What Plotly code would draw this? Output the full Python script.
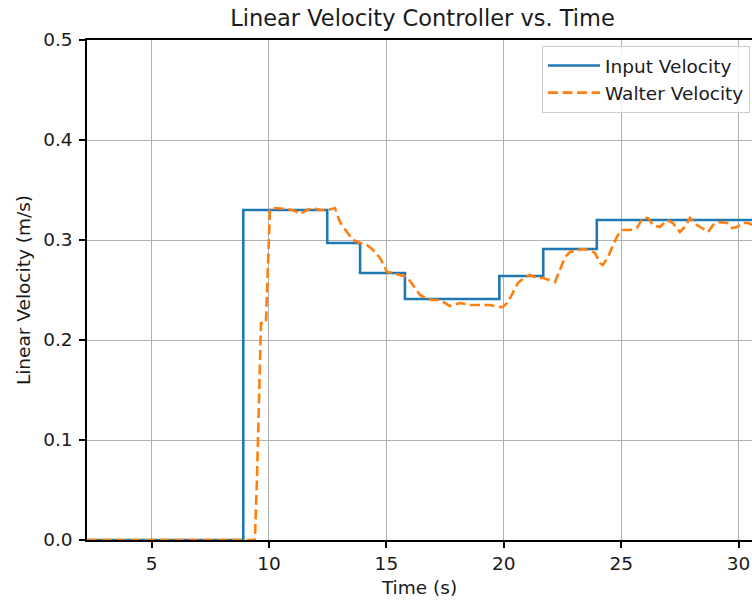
import plotly.graph_objects as go

# Commanded (input) velocity: piecewise-constant steps
input_time = [2.25, 8.905, 12.48, 13.88, 15.79, 19.81, 21.68, 23.96, 31.0]
input_velocity = [0.0, 0.330, 0.297, 0.267, 0.241, 0.264, 0.291, 0.320, 0.320]

# Measured robot (Walter) velocity
walter_time = [2.25, 9.40, 9.49, 9.66, 9.87, 10.04, 10.17, 10.77, 11.11, 11.32,
               11.62, 11.87, 12.17, 12.51, 12.81, 13.02, 13.32, 13.58, 13.88, 14.17,
               14.43, 14.73, 15.03, 15.28, 15.58, 15.88, 16.13, 16.43, 16.73, 16.98,
               17.28, 17.71, 18.13, 18.56, 18.99, 19.41, 19.75, 19.96, 20.18, 20.39,
               20.60, 20.90, 21.12, 21.41, 21.67, 21.97, 22.18, 22.39, 22.61, 22.82,
               23.12, 23.37, 23.67, 23.88, 24.10, 24.22, 24.44, 24.65, 24.86, 25.08,
               25.38, 25.67, 25.93, 26.14, 26.35, 26.65, 26.95, 27.20, 27.50, 27.71,
               27.93, 28.22, 28.44, 28.70, 28.91, 29.21, 29.51, 29.72, 29.93, 30.15,
               30.40, 30.60, 31.0]
walter_velocity = [0.0, 0.0, 0.063, 0.217, 0.217, 0.330, 0.332, 0.331, 0.329, 0.326,
                   0.330, 0.332, 0.330, 0.330, 0.332, 0.318, 0.308, 0.300, 0.297, 0.295,
                   0.290, 0.282, 0.268, 0.267, 0.265, 0.263, 0.255, 0.245, 0.241, 0.240,
                   0.240, 0.234, 0.237, 0.235, 0.235, 0.235, 0.233, 0.233, 0.238, 0.247,
                   0.257, 0.263, 0.265, 0.262, 0.262, 0.260, 0.258, 0.270, 0.283, 0.288,
                   0.290, 0.291, 0.290, 0.287, 0.277, 0.275, 0.283, 0.295, 0.305, 0.310,
                   0.310, 0.312, 0.322, 0.322, 0.315, 0.313, 0.320, 0.317, 0.308, 0.313,
                   0.322, 0.315, 0.312, 0.308, 0.315, 0.318, 0.317, 0.312, 0.313, 0.317,
                   0.317, 0.315, 0.315]

x_ticks = [5, 10, 15, 20, 25, 30]
y_ticks = [0.0, 0.1, 0.2, 0.3, 0.4, 0.5]
y_tick_text = ["0.0", "0.1", "0.2", "0.3", "0.4", "0.5"]

FONT = "DejaVu Sans"
TEXT = "#1a1a1a"

fig = go.Figure()
fig.add_trace(go.Scatter(
    x=input_time, y=input_velocity, mode="lines", name="Input Velocity",
    line=dict(color="#1f77b4", width=2.6, shape="hv"),
))
fig.add_trace(go.Scatter(
    x=walter_time, y=walter_velocity, mode="lines", name="Walter Velocity",
    line=dict(color="#ff7f0e", width=2.6, dash="10px,4.5px"),
))

fig.update_layout(
    width=752, height=602,
    margin=dict(l=87, r=0, t=40, b=62),
    paper_bgcolor="white", plot_bgcolor="white",
    font=dict(family=FONT, size=18, color=TEXT),
    title=dict(text="Linear Velocity Controller vs. Time", x=0.5045, xref="paper",
               xanchor="center", y=1 - 18 / 602, yref="container", yanchor="middle",
               font=dict(size=22.5, family=FONT, color=TEXT)),
    showlegend=True,
    legend=dict(x=0.997, y=0.988, xanchor="right", yanchor="top", itemwidth=52,
                bgcolor="rgba(255,255,255,0.8)", bordercolor="#cccccc", borderwidth=1,
                font=dict(size=18.5, family=FONT, color=TEXT)),
)
fig.update_xaxes(
    range=[2.25, 30.57], tickvals=x_ticks, ticks="outside", ticklen=6, tickwidth=1.5,
    tickcolor="black", showline=True, linecolor="black", linewidth=1.5, mirror=True,
    showgrid=True, gridcolor="#b0b0b0", gridwidth=1.2, zeroline=False,
    title=dict(text="Time (s)", standoff=8, font=dict(size=18.5)),
    tickfont=dict(size=18.5),
)
fig.update_yaxes(
    range=[0, 0.5], tickvals=y_ticks, ticktext=y_tick_text, ticks="outside", ticklen=6,
    tickwidth=1.5, tickcolor="black", showline=True, linecolor="black", linewidth=1.5,
    mirror=False, showgrid=True, gridcolor="#b0b0b0", gridwidth=1.2, zeroline=False,
    ticklabelstandoff=3,
    title=dict(text="Linear Velocity (m/s)", standoff=8, font=dict(size=18.5)),
    tickfont=dict(size=18.5),
)

fig.write_html("out.html")
